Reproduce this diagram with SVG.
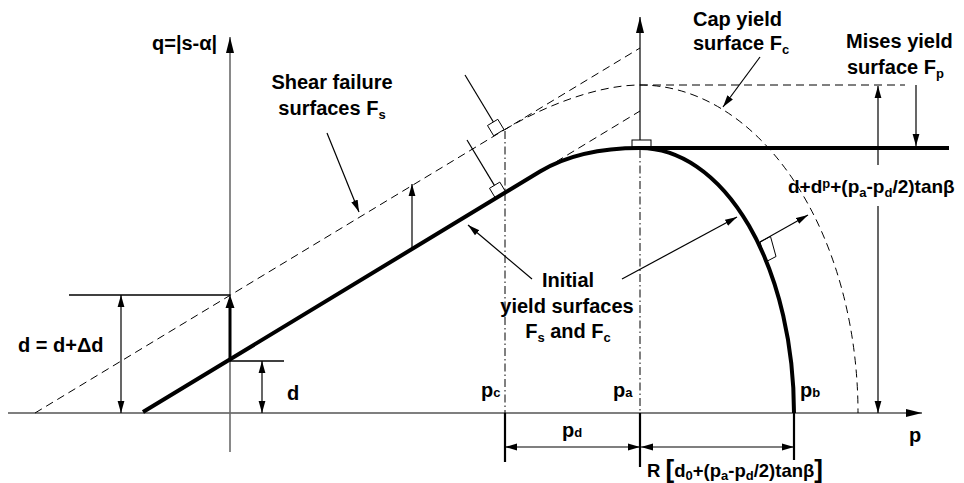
<svg xmlns="http://www.w3.org/2000/svg" width="964" height="483" viewBox="0 0 964 483">
<style>
text{font-family:"Liberation Sans",Arial,sans-serif;font-weight:bold;font-size:20px;fill:#000}
.sub{font-size:13px}
.thin{fill:none;stroke:#000;stroke-width:1.2}
.dash{fill:none;stroke:#000;stroke-width:1;stroke-dasharray:8,5}
.dd{fill:none;stroke:#000;stroke-width:1;stroke-dasharray:8,3,1.5,3}
.thick{fill:none;stroke:#000;stroke-width:4;stroke-linecap:butt}
.tick{fill:none;stroke:#000;stroke-width:2.2}
.arr{fill:none;stroke:#000;stroke-width:1.2;marker-end:url(#ah)}
.arr2{fill:none;stroke:#000;stroke-width:1.2;marker-start:url(#ah);marker-end:url(#ah)}
.box{fill:none;stroke:#000;stroke-width:1}
</style>
<defs>
<marker id="ah" markerUnits="userSpaceOnUse" markerWidth="13" markerHeight="8" refX="12" refY="4" orient="auto-start-reverse">
<path d="M0,0.6 L12,4 L0,7.4 z" fill="#000"/>
</marker>
<marker id="axh" markerUnits="userSpaceOnUse" markerWidth="17" markerHeight="9" refX="16" refY="4.5" orient="auto">
<path d="M0,0.5 L16,4.5 L0,8.5 z" fill="#000"/>
</marker>
</defs>
<rect width="964" height="483" fill="#fff"/>

<g id="axes">
<line x1="8" y1="413" x2="922" y2="413" stroke="#000" stroke-width="1.2" marker-end="url(#axh)"/>
<line x1="230" y1="452" x2="230" y2="37" stroke="#6b6b6b" stroke-width="1.6" marker-end="url(#axh)"/>
<line x1="640" y1="140" x2="640" y2="17" stroke="#000" stroke-width="1.2" marker-end="url(#axh)"/>
<line class="dd" x1="640" y1="150" x2="640" y2="413"/>
<line class="dd" x1="505" y1="131" x2="505" y2="413"/>
<line class="tick" x1="505" y1="413" x2="505" y2="462"/>
<line class="tick" x1="640" y1="413" x2="640" y2="467"/>
<line class="tick" x1="794" y1="413" x2="794" y2="460"/>
</g>

<g id="shear-failure-surface">
<line class="dash" x1="35" y1="413" x2="640" y2="48"/>
</g>
<g id="cap-yield-surface">
<path class="dash" d="M505,129.5 C539.2,108.8 595,85 640,85 A218,328 0 0 1 858,413"/>
</g>
<g id="mises-yield-surface">
<line class="dash" x1="640" y1="85" x2="905" y2="85"/>
</g>
<g id="tangent">
<line class="dash" x1="545" y1="168.5" x2="640" y2="111"/>
</g>
<g id="initial-yield-surface">
<path class="thick" d="M143,412 L540,171.5 Q579,148 640,148 A154,265 0 0 1 794,413"/>
<line class="thick" x1="640" y1="148" x2="949" y2="148"/>
</g>

<g id="right-angle-marks">
<polygon class="box" points="504,129.6 493.7,135.8 487.5,125.5 497.8,119.3"/>
<polygon class="box" points="506,192.4 495.7,198.6 489.5,188.3 499.8,182.1"/>
<rect class="box" x="632" y="140" width="19" height="7"/>
<polygon class="box" points="760,242 770.5,236.5 776,256.5 765.5,262"/>
</g>

<g id="connectors">
<line class="thin" x1="465" y1="75" x2="493.4" y2="122"/>
<line class="thin" x1="467" y1="140" x2="494.4" y2="185.4"/>
<line class="arr" x1="327" y1="133" x2="359" y2="212"/>
<line class="arr" x1="412" y1="248" x2="412" y2="184"/>
<line class="arr" x1="532" y1="279" x2="468" y2="225"/>
<line class="arr" x1="622" y1="279" x2="737" y2="217"/>
<line class="arr" x1="760" y1="242" x2="808" y2="215"/>
<line class="arr" x1="760" y1="57" x2="723" y2="107"/>
<line class="arr" x1="878" y1="165" x2="878" y2="86"/>
<line class="arr" x1="878" y1="206" x2="878" y2="413"/>
<line class="arr" x1="916" y1="85" x2="916" y2="146"/>
<line x1="69" y1="295" x2="230" y2="295" stroke="#000" stroke-width="1.6"/>
<line class="arr2" x1="121" y1="295" x2="121" y2="413"/>
<line x1="230" y1="361" x2="284" y2="361" stroke="#000" stroke-width="1.6"/>
<line class="arr2" x1="262" y1="361" x2="262" y2="413"/>
<line x1="230" y1="361" x2="230" y2="300" stroke="#000" stroke-width="3"/>
<path d="M225.5,308 L230,295 L234.5,308 z" fill="#000"/>
<line class="arr2" x1="505" y1="447" x2="640" y2="447"/>
<line class="arr2" x1="641" y1="447" x2="794" y2="447"/>
</g>

<g id="labels">
<text x="152" y="50">q=|s-α|</text>
<text x="332" y="89" text-anchor="middle">Shear failure</text>
<text x="332" y="115" text-anchor="middle">surfaces F<tspan class="sub" dy="4">s</tspan></text>
<text x="693" y="26">Cap yield</text>
<text x="693" y="50">surface F<tspan class="sub" dy="4">c</tspan></text>
<text x="846" y="48">Mises yield</text>
<text x="847" y="74">surface F<tspan class="sub" dy="4">p</tspan></text>
<text x="788" y="193" style="font-size:19px">d+d<tspan class="sub" dy="-5">p</tspan><tspan dy="5">+(p</tspan><tspan class="sub" dy="4">a</tspan><tspan dy="-4">-p</tspan><tspan class="sub" dy="4">d</tspan><tspan dy="-4">/2)tanβ</tspan></text>
<text x="568" y="287" text-anchor="middle">Initial</text>
<text x="567" y="313" text-anchor="middle">yield surfaces</text>
<text x="568" y="338" text-anchor="middle">F<tspan class="sub" dy="4">s</tspan><tspan dy="-4"> and F</tspan><tspan class="sub" dy="4">c</tspan></text>
<text x="18" y="352">d = d+Δd</text>
<text x="287" y="400">d</text>
<text x="481" y="397">p<tspan class="sub">c</tspan></text>
<text x="613" y="397">p<tspan class="sub">a</tspan></text>
<text x="800" y="397">p<tspan class="sub">b</tspan></text>
<text x="909" y="442">p</text>
<text x="562" y="437">p<tspan class="sub">d</tspan></text>
<text x="647" y="477" style="font-size:18.5px">R <tspan style="font-size:26px" dy="1">[</tspan><tspan dy="-1">d</tspan><tspan class="sub" dy="3">0</tspan><tspan dy="-3">+(p</tspan><tspan class="sub" dy="3">a</tspan><tspan dy="-3">-p</tspan><tspan class="sub" dy="3">d</tspan><tspan dy="-3">/2)tanβ</tspan><tspan style="font-size:26px" dy="1">]</tspan></text>
</g>
</svg>
